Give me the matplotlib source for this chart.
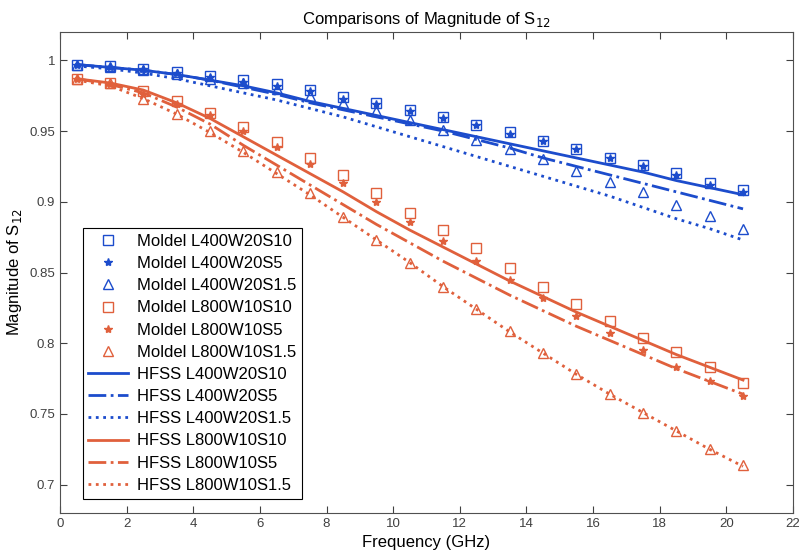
import matplotlib
matplotlib.use("Agg")
import matplotlib.pyplot as plt

plt.rcParams['font.family'] = ['Liberation Sans', 'DejaVu Sans']

freq = [0.5, 1.5, 2.5, 3.5, 4.5, 5.5, 6.5, 7.5, 8.5, 9.5, 10.5,
        11.5, 12.5, 13.5, 14.5, 15.5, 16.5, 17.5, 18.5, 19.5, 20.5]

# model points
model_l400_s10 = [0.997, 0.996, 0.994, 0.992, 0.989, 0.986, 0.983, 0.979, 0.974, 0.970, 0.965,
                  0.960, 0.954, 0.949, 0.943, 0.937, 0.931, 0.926, 0.920, 0.913, 0.908]
model_l400_s5 = [0.997, 0.995, 0.994, 0.991, 0.988, 0.985, 0.982, 0.978, 0.973, 0.969, 0.964,
                 0.959, 0.954, 0.948, 0.943, 0.937, 0.931, 0.925, 0.919, 0.912, 0.907]
model_l400_s15 = [0.997, 0.995, 0.993, 0.990, 0.987, 0.984, 0.980, 0.975, 0.970, 0.964, 0.958,
                  0.951, 0.944, 0.937, 0.930, 0.922, 0.914, 0.907, 0.898, 0.890, 0.881]
model_l800_s10 = [0.987, 0.984, 0.978, 0.971, 0.963, 0.953, 0.942, 0.931, 0.919, 0.906, 0.892,
                  0.880, 0.867, 0.853, 0.840, 0.828, 0.816, 0.804, 0.794, 0.783, 0.772]
model_l800_s5 = [0.987, 0.983, 0.976, 0.969, 0.961, 0.950, 0.939, 0.927, 0.913, 0.900, 0.886,
                 0.872, 0.858, 0.845, 0.832, 0.819, 0.807, 0.795, 0.783, 0.773, 0.763]
model_l800_s15 = [0.987, 0.984, 0.973, 0.962, 0.950, 0.936, 0.921, 0.906, 0.889, 0.873, 0.857,
                  0.840, 0.824, 0.809, 0.793, 0.778, 0.764, 0.751, 0.738, 0.725, 0.714]

# HFSS curves
hfss_l400_s10 = [0.997, 0.995, 0.993, 0.990, 0.986, 0.982, 0.977, 0.971, 0.966, 0.961, 0.956,
                 0.951, 0.946, 0.941, 0.936, 0.931, 0.926, 0.921, 0.915, 0.910, 0.905]
hfss_l400_s5 = [0.997, 0.995, 0.993, 0.990, 0.986, 0.981, 0.976, 0.970, 0.965, 0.960, 0.955,
                0.950, 0.944, 0.938, 0.931, 0.925, 0.919, 0.913, 0.907, 0.901, 0.895]
hfss_l400_s15 = [0.996, 0.994, 0.991, 0.987, 0.982, 0.977, 0.972, 0.966, 0.960, 0.953, 0.946,
                 0.939, 0.932, 0.925, 0.918, 0.911, 0.904, 0.896, 0.888, 0.881, 0.873]
hfss_l800_s10 = [0.987, 0.984, 0.979, 0.970, 0.959, 0.946, 0.933, 0.920, 0.907, 0.893, 0.880,
                 0.868, 0.856, 0.844, 0.833, 0.822, 0.812, 0.802, 0.792, 0.783, 0.774]
hfss_l800_s5 = [0.987, 0.983, 0.977, 0.967, 0.955, 0.940, 0.926, 0.912, 0.898, 0.884, 0.871,
                0.858, 0.846, 0.834, 0.823, 0.812, 0.802, 0.792, 0.782, 0.773, 0.764]
hfss_l800_s15 = [0.986, 0.982, 0.973, 0.962, 0.949, 0.935, 0.920, 0.905, 0.889, 0.873, 0.857,
                 0.840, 0.824, 0.808, 0.793, 0.778, 0.764, 0.751, 0.738, 0.725, 0.713]

blue = '#1c4ccc'
red = '#e0603c'

fig = plt.figure(figsize=(7.99, 5.56), dpi=100)
ax = fig.add_axes([0.075, 0.0773, 0.9175, 0.8651])

mk = dict(linestyle='none', markerfacecolor='none', markersize=7, markeredgewidth=1.0)
ax.plot(freq, model_l400_s10, marker='s', color=blue, label='Moldel L400W20S10', **mk)
ax.plot(freq, model_l400_s5, marker='*', color=blue, linestyle='none', markersize=6,
        label='Moldel L400W20S5')
ax.plot(freq, model_l400_s15, marker='^', color=blue, label='Moldel L400W20S1.5', **mk)
ax.plot(freq, model_l800_s10, marker='s', color=red, label='Moldel L800W10S10', **mk)
ax.plot(freq, model_l800_s5, marker='*', color=red, linestyle='none', markersize=6,
        label='Moldel L800W10S5')
ax.plot(freq, model_l800_s15, marker='^', color=red, label='Moldel L800W10S1.5', **mk)

ax.plot(freq, hfss_l400_s10, '-', color=blue, lw=2, label='HFSS L400W20S10')
ax.plot(freq, hfss_l400_s5, '-.', color=blue, lw=2, label='HFSS L400W20S5')
ax.plot(freq, hfss_l400_s15, ':', color=blue, lw=2, label='HFSS L400W20S1.5')
ax.plot(freq, hfss_l800_s10, '-', color=red, lw=2, label='HFSS L800W10S10')
ax.plot(freq, hfss_l800_s5, '-.', color=red, lw=2, label='HFSS L800W10S5')
ax.plot(freq, hfss_l800_s15, ':', color=red, lw=2, label='HFSS L800W10S1.5')

ax.set_xlim(0, 22)
ax.set_ylim(0.68, 1.02)
ax.set_xticks(range(0, 23, 2))
ax.set_yticks([0.7, 0.75, 0.8, 0.85, 0.9, 0.95, 1.0])
ax.set_yticklabels(['0.7', '0.75', '0.8', '0.85', '0.9', '0.95', '1'])
ax.tick_params(direction='in', top=True, right=True, length=5, labelsize=9.5,
               labelcolor='#404040', color='#404040')
for s in ax.spines.values():
    s.set_color('#505050')

ax.set_xlabel('Frequency (GHz)', fontsize=12)
ax.set_ylabel('Magnitude of S$_{12}$', fontsize=12)
ax.set_title('Comparisons of Magnitude of S$_{12}$', fontsize=12)

leg = ax.legend(loc='upper left', bbox_to_anchor=(0.031, 0.5925), borderaxespad=0,
                fontsize=12, numpoints=1, handlelength=2.4, handletextpad=0.5,
                labelspacing=0.43, fancybox=False, edgecolor='black', framealpha=1,
                borderpad=0.35)
leg.get_frame().set_linewidth(0.8)

fig.savefig('out.png', dpi=100)
